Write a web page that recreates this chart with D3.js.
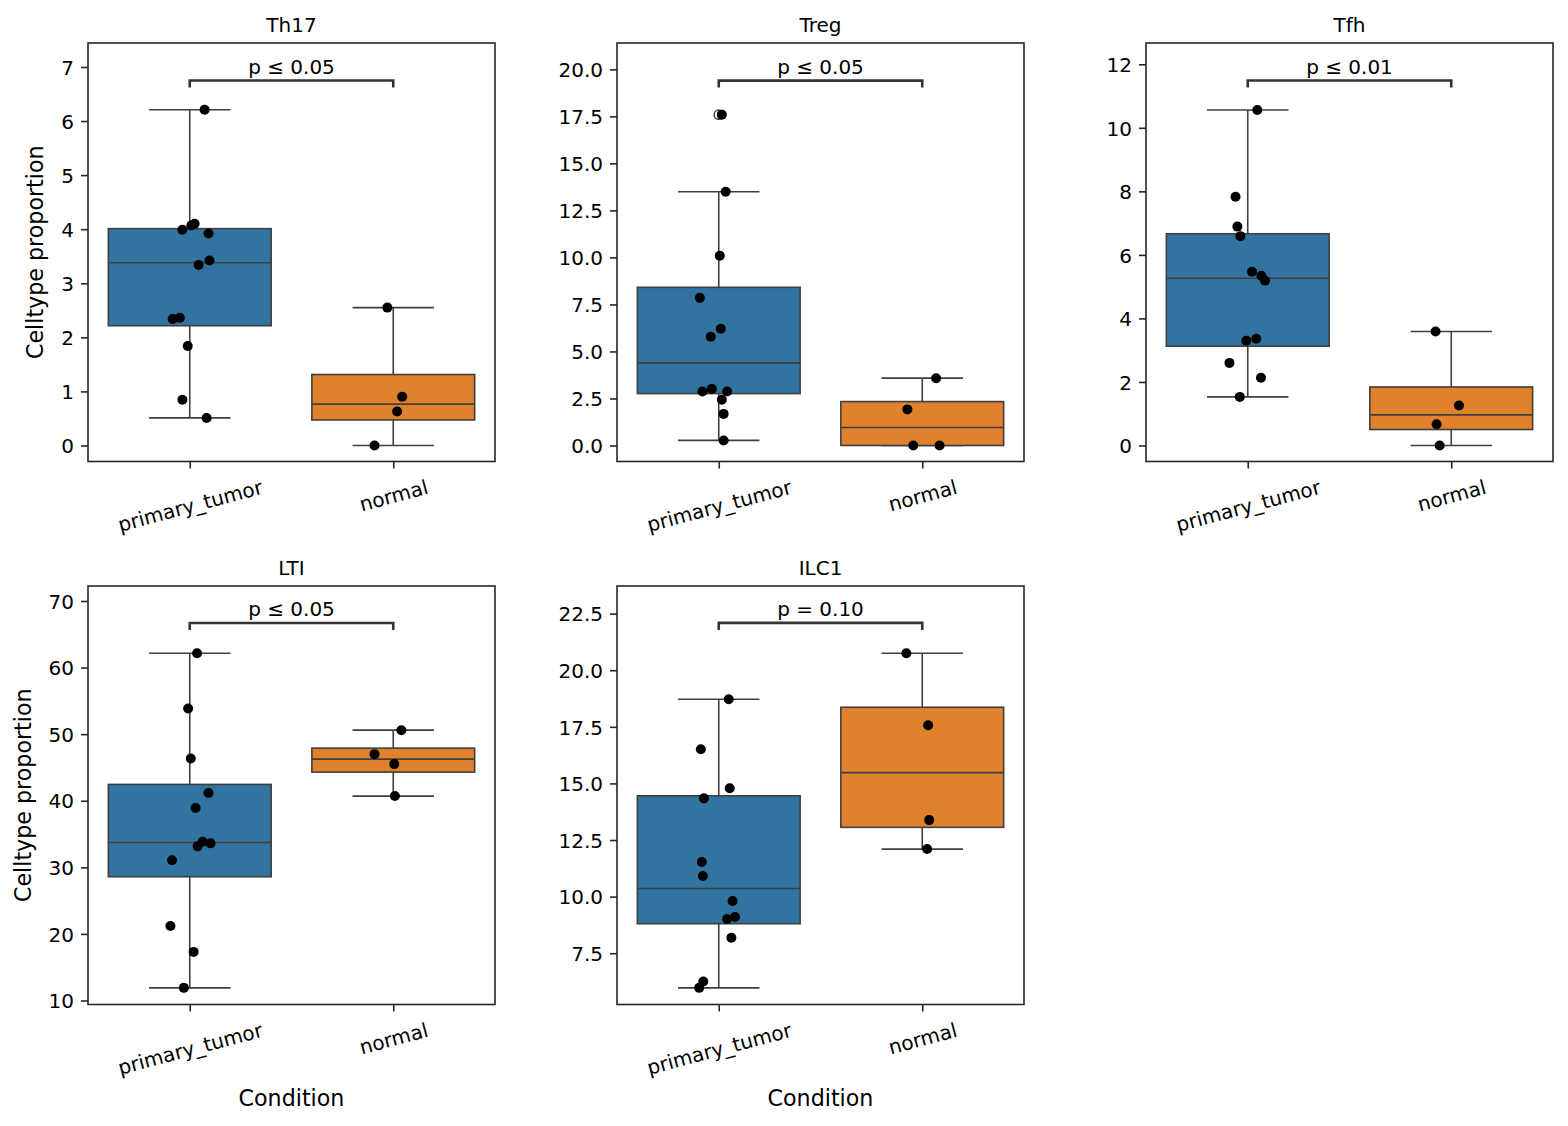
<!DOCTYPE html>
<html><head><meta charset="utf-8">
<script src="https://cdn.jsdelivr.net/npm/d3@7"></script>
<style>
body{margin:0;background:#fff}
text{font-family:"DejaVu Sans",sans-serif;fill:#000}
</style>
</head><body>
<svg id="chart" width="1568" height="1126"></svg>
<script>
// ---------- data ----------
const celltypes = ["Th17", "Treg", "Tfh", "LTI", "ILC1"];
const conditions = ["primary_tumor", "normal"];

const th17Tumor  = [6.21, 3.99, 4.07, 4.10, 3.92, 3.42, 3.34, 2.34, 2.36, 1.84, 0.845, 0.51];
const th17Normal = [2.55, 0.90, 0.63, 0.0];
const tregTumor  = [17.59, 13.49, 10.09, 7.85, 6.21, 5.78, 3.01, 2.87, 2.87, 2.43, 1.68, 0.27];
const tregNormal = [3.58, 1.92, 0.0, 0.0];
const tfhTumor   = [10.56, 7.83, 6.89, 6.59, 5.47, 5.34, 5.19, 3.36, 3.30, 2.60, 2.13, 1.53];
const tfhNormal  = [3.59, 1.26, 0.67, 0.0];
const ltiTumor   = [62.15, 53.85, 46.35, 41.15, 38.9, 33.85, 33.6, 33.15, 31.05, 21.2, 17.3, 11.9];
const ltiNormal  = [50.6, 47.0, 45.5, 40.7];
const ilc1Tumor  = [18.72, 16.51, 14.79, 14.34, 11.53, 10.91, 9.81, 9.10, 9.01, 8.18, 6.25, 5.97];
const ilc1Normal = [20.75, 17.57, 13.38, 12.10];

// strip-plot jitter (category units)
const th17TumorJitter  = [0.073, -0.036, 0.008, 0.024, 0.092, 0.097, 0.044, -0.084, -0.049, -0.010, -0.036, 0.083];
const th17NormalJitter = [-0.029, 0.044, 0.019, -0.092];
const tregTumorJitter  = [0.015, 0.034, 0.005, -0.093, 0.010, -0.039, -0.034, -0.080, 0.041, 0.015, 0.024, 0.024];
const tregNormalJitter = [0.068, -0.073, -0.044, 0.085];
const tfhTumorJitter   = [0.047, -0.060, -0.051, -0.036, 0.021, 0.067, 0.085, 0.042, -0.007, -0.090, 0.065, -0.039];
const tfhNormalJitter  = [-0.077, 0.038, -0.072, -0.057];
const ltiTumorJitter   = [0.036, -0.008, 0.005, 0.092, 0.029, 0.063, 0.102, 0.039, -0.087, -0.095, 0.019, -0.029];
const ltiNormalJitter  = [0.040, -0.092, 0.005, 0.008];
const ilc1TumorJitter  = [0.049, -0.088, 0.054, -0.073, -0.083, -0.078, 0.068, 0.080, 0.041, 0.062, -0.076, -0.096];
const ilc1NormalJitter = [-0.078, 0.029, 0.034, 0.024];

const yDomains = [[-0.296, 7.443], [-0.851, 21.40], [-0.504, 12.67], [9.40, 72.25], [5.235, 23.72]];
const yTicks = [
  [0, 1, 2, 3, 4, 5, 6, 7],
  [0, 2.5, 5, 7.5, 10, 12.5, 15, 17.5, 20],
  [0, 2, 4, 6, 8, 10, 12],
  [10, 20, 30, 40, 50, 60, 70],
  [7.5, 10, 12.5, 15, 17.5, 20, 22.5]
];
const yTickFormats = ["d", ".1f", "d", "d", ".1f"];
const bracketValues = [6.75, 19.40, 11.49, 66.7, 22.09];
const pLabels = ["p ≤ 0.05", "p ≤ 0.05", "p ≤ 0.01", "p ≤ 0.05", "p = 0.10"];
const yLabel = "Celltype proportion";
const xLabel = "Condition";

const seriesValues = [[th17Tumor, th17Normal], [tregTumor, tregNormal], [tfhTumor, tfhNormal], [ltiTumor, ltiNormal], [ilc1Tumor, ilc1Normal]];
const seriesJitter = [[th17TumorJitter, th17NormalJitter], [tregTumorJitter, tregNormalJitter], [tfhTumorJitter, tfhNormalJitter], [ltiTumorJitter, ltiNormalJitter], [ilc1TumorJitter, ilc1NormalJitter]];

// ---------- layout / style ----------
const colors = ["#3274a1", "#e1812c"];
const lineGray = "#3f3f3f";
const colLefts = [88, 617, 1146];
const rowTops = [43, 586];
const W = 407, H = 418.5;
const FS = 20, FS_LABEL = 22.2;

const svg = d3.select("#chart");

function boxStats(vals) {
  const s = vals.slice().sort(d3.ascending);
  const q1 = d3.quantile(s, 0.25), med = d3.quantile(s, 0.5), q3 = d3.quantile(s, 0.75);
  const iqr = q3 - q1;
  const inl = s.filter(v => v >= q1 - 1.5 * iqr && v <= q3 + 1.5 * iqr);
  return {q1, med, q3, lo: d3.min(inl), hi: d3.max(inl), fliers: s.filter(v => v < q1 - 1.5 * iqr || v > q3 + 1.5 * iqr)};
}

celltypes.forEach((name, pi) => {
  const row = pi < 3 ? 0 : 1, col = pi % 3;
  const left = colLefts[col], top = rowTops[row];
  const g = svg.append("g").attr("transform", `translate(${left},${top})`);
  const x = d3.scaleLinear().domain([-0.5, 1.5]).range([0, W]);
  const y = d3.scaleLinear().domain(yDomains[pi]).range([H, 0]);

  // boxes
  conditions.forEach((c, ci) => {
    const st = boxStats(seriesValues[pi][ci]);
    const bg = g.append("g");
    bg.append("line").attr("x1", x(ci)).attr("x2", x(ci)).attr("y1", y(st.q3)).attr("y2", y(st.hi))
      .attr("stroke", lineGray).attr("stroke-width", 1.6);
    bg.append("line").attr("x1", x(ci)).attr("x2", x(ci)).attr("y1", y(st.q1)).attr("y2", y(st.lo))
      .attr("stroke", lineGray).attr("stroke-width", 1.6);
    [st.hi, st.lo].forEach(v => bg.append("line").attr("x1", x(ci - 0.2)).attr("x2", x(ci + 0.2))
      .attr("y1", y(v)).attr("y2", y(v)).attr("stroke", lineGray).attr("stroke-width", 1.6));
    bg.append("rect").attr("x", x(ci - 0.4)).attr("width", x(ci + 0.4) - x(ci - 0.4))
      .attr("y", y(st.q3)).attr("height", y(st.q1) - y(st.q3))
      .attr("fill", colors[ci]).attr("stroke", lineGray).attr("stroke-width", 1.6);
    bg.append("line").attr("x1", x(ci - 0.4)).attr("x2", x(ci + 0.4)).attr("y1", y(st.med)).attr("y2", y(st.med))
      .attr("stroke", lineGray).attr("stroke-width", 1.6);
    bg.selectAll("circle.flier").data(st.fliers).join("circle").attr("class", "flier")
      .attr("cx", x(ci)).attr("cy", d => y(d)).attr("r", 4.6)
      .attr("fill", "none").attr("stroke", lineGray).attr("stroke-width", 1.5);
  });

  // strip points
  conditions.forEach((c, ci) => {
    const vals = seriesValues[pi][ci], jit = seriesJitter[pi][ci];
    g.append("g").selectAll("circle").data(vals).join("circle")
      .attr("cx", (d, i) => x(ci + jit[i])).attr("cy", d => y(d)).attr("r", 5).attr("fill", "#000");
  });

  // frame
  g.append("rect").attr("width", W).attr("height", H).attr("fill", "none")
    .attr("stroke", "#262626").attr("stroke-width", 1.6);

  // y axis
  const fmt = d3.format(yTickFormats[pi]);
  const ya = g.append("g").call(d3.axisLeft(y).tickValues(yTicks[pi]).tickFormat(fmt).tickSize(7).tickPadding(7));
  ya.select(".domain").remove();
  ya.selectAll(".tick line").attr("stroke", "#262626").attr("stroke-width", 1.6);
  ya.selectAll(".tick text").attr("font-size", FS).attr("font-family", "DejaVu Sans").attr("fill", "#000").attr("dy", "0.36em");
  let maxW = 0;
  ya.selectAll(".tick text").each(function() { maxW = Math.max(maxW, this.getComputedTextLength()); });

  // x axis
  const xa = g.append("g").attr("transform", `translate(0,${H})`)
    .call(d3.axisBottom(x).tickValues([0, 1]).tickFormat(i => conditions[i]).tickSize(7).tickPadding(7));
  xa.select(".domain").remove();
  xa.selectAll(".tick line").attr("stroke", "#262626").attr("stroke-width", 1.6);
  const ang = 15 * Math.PI / 180;
  let maxH = 0;
  xa.selectAll(".tick text").each(function() {
    const t = d3.select(this).attr("font-size", FS).attr("font-family", "DejaVu Sans").attr("fill", "#000");
    const len = this.getComputedTextLength();
    const bh = len * Math.sin(ang) + 1.164 * FS * Math.cos(ang);
    maxH = Math.max(maxH, bh);
    t.attr("y", null).attr("dy", "0.346em").attr("text-anchor", "middle")
      .attr("transform", `translate(0,${14 + bh / 2}) rotate(-15)`);
  });

  // title
  g.append("text").attr("x", W / 2).attr("y", -11).attr("text-anchor", "middle").attr("font-size", FS).text(name);

  // bracket
  const yb = y(bracketValues[pi]);
  g.append("path").attr("d", `M${x(0)},${yb + 7}V${yb}H${x(1)}V${yb + 7}`)
    .attr("fill", "none").attr("stroke", "#333").attr("stroke-width", 2.6);
  g.append("text").attr("x", (x(0) + x(1)) / 2).attr("y", yb - 6.7).attr("text-anchor", "middle")
    .attr("font-size", FS).text(pLabels[pi]);

  // axis labels
  if (col === 0) {
    const bx = -15 - maxW - 17;
    g.append("text").attr("transform", `translate(${bx},${H / 2}) rotate(-90)`)
      .attr("text-anchor", "middle").attr("font-size", FS_LABEL).text(yLabel);
  }
  if (row === 1) {
    g.append("text").attr("x", W / 2).attr("y", H + 14 + maxH + 6 + 0.928 * FS_LABEL)
      .attr("text-anchor", "middle").attr("font-size", FS_LABEL).text(xLabel);
  }
});
</script>
</body></html>
